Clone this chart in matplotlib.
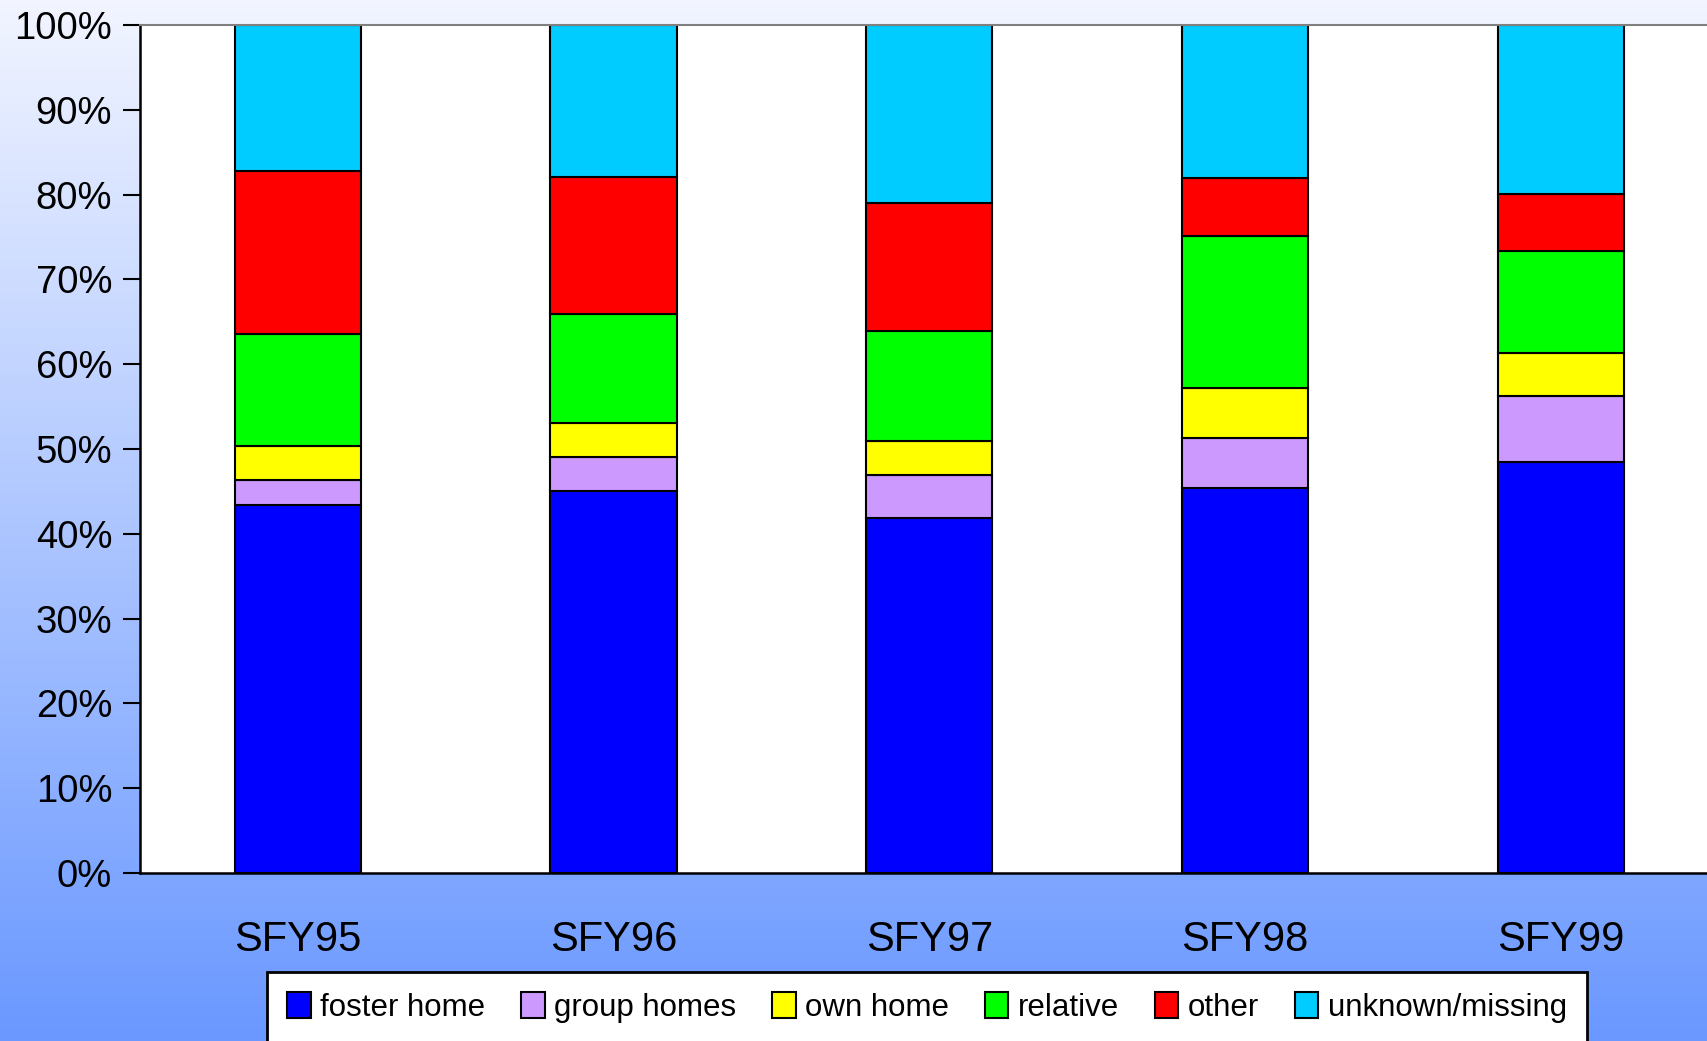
import numpy as np
import matplotlib
matplotlib.use('Agg')
import matplotlib.pyplot as plt
from matplotlib.ticker import FuncFormatter

plt.rcParams['font.family'] = ['Liberation Sans', 'DejaVu Sans']

# Data (percent of each year's total)
years = ['SFY95', 'SFY96', 'SFY97', 'SFY98', 'SFY99']
foster_home = [43.4, 45.0, 41.9, 45.4, 48.5]
group_homes = [3.0, 4.0, 5.0, 5.9, 7.7]
own_home = [4.0, 4.1, 4.0, 5.9, 5.1]
relative = [13.2, 12.8, 13.0, 17.9, 12.0]
other = [19.2, 16.2, 15.1, 6.9, 6.8]
unknown_missing = [17.2, 17.9, 21.0, 18.0, 19.9]

series = [
    ('foster home', foster_home, '#0000FF'),
    ('group homes', group_homes, '#CC99FF'),
    ('own home', own_home, '#FFFF00'),
    ('relative', relative, '#00FF00'),
    ('other', other, '#FF0000'),
    ('unknown/missing', unknown_missing, '#00CCFF'),
]

W, H = 1707, 1041
fig = plt.figure(figsize=(W / 100, H / 100), dpi=100)

# gradient background
bg = fig.add_axes([0, 0, 1, 1], zorder=0)
top = np.array([242, 245, 255]) / 255
bot = np.array([106, 152, 255]) / 255
t = np.linspace(0, 1, 256)[:, None]
grad = top[None, :] * (1 - t) + bot[None, :] * t
bg.imshow(grad[:, None, :], aspect='auto', extent=[0, 1, 0, 1])
bg.axis('off')

# plot area in pixel coords
left, right, ytop, ybot = 140, 140 + 5 * 315.7, 25, 873
ax = fig.add_axes([left / W, 1 - ybot / H, (right - left) / W, (ybot - ytop) / H], zorder=1)
ax.set_facecolor('white')

x = np.arange(len(years))
bottom = np.zeros(len(years))
handles = []
for name, vals, col in series:
    vals = np.array(vals)
    b = ax.bar(x, vals, 0.4, bottom=bottom, color=col, edgecolor='black',
               linewidth=1.5, label=name, zorder=2)
    handles.append(b)
    bottom += vals

ax.set_xlim(-0.5, 4.5)
ax.set_ylim(0, 100)
ax.set_yticks(np.arange(0, 101, 10))
ax.yaxis.set_major_formatter(FuncFormatter(lambda v, p: f'{int(v)}%'))
ax.set_xticks(x)
ax.set_xticklabels(years, fontsize=30)
ax.tick_params(axis='x', length=0, pad=34)
ax.tick_params(axis='y', labelsize=27.5, length=12, width=1.5, direction='out', pad=8)

ax.spines['left'].set_linewidth(1.8)
ax.spines['bottom'].set_linewidth(1.8)
ax.spines['top'].set_color('#808080')
ax.spines['top'].set_linewidth(1.5)
ax.spines['right'].set_visible(False)

leg = fig.legend(handles=handles, labels=[s[0] for s in series],
                 loc='upper left', bbox_to_anchor=(267 / W, 1 - 972 / H),
                 ncol=6, fontsize=22.5, frameon=True, fancybox=False,
                 edgecolor='black', facecolor='white', framealpha=1,
                 handlelength=0.75, handleheight=0.9, handletextpad=0.3,
                 columnspacing=1.15, borderpad=0.65, borderaxespad=0)
leg.get_frame().set_linewidth(2)
leg.set_zorder(3)

fig.savefig('out.png', dpi=100)
